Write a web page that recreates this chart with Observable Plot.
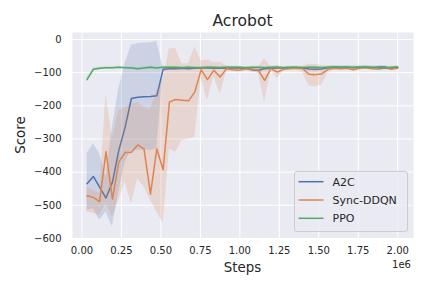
<!DOCTYPE html>
<html>
<head>
<meta charset="utf-8">
<script src="https://cdn.jsdelivr.net/npm/d3@7"></script>
<script src="https://cdn.jsdelivr.net/npm/@observablehq/plot@0.6"></script>
<style>
  html, body { margin: 0; padding: 0; background: white; }
</style>
</head>
<body>
<script>
// ---- data ----
const steps = [32000, 72000, 112000, 152000, 193000, 233000, 273000, 313000, 353000, 393000,
  434000, 474000, 514000, 554000, 594000, 634000, 675000, 715000, 755000, 795000,
  835000, 875000, 916000, 956000, 996000, 1036000, 1076000, 1116000, 1157000, 1197000,
  1237000, 1277000, 1317000, 1357000, 1398000, 1438000, 1478000, 1518000, 1558000, 1598000,
  1639000, 1679000, 1719000, 1759000, 1799000, 1839000, 1880000, 1920000, 1960000, 2000000];

const seriesNames = ["A2C", "Sync-DDQN", "PPO"];
const seriesColors = ["#4c72b0", "#dd8452", "#55a868"];

const a2c = [-435, -413, -445, -478, -430, -335, -265, -178, -174, -173,
  -172, -170, -90, -88, -88, -87, -88, -87, -86, -86,
  -87, -86, -87, -86, -86, -87, -91, -93, -88, -87,
  -86, -86, -86, -85, -86, -89, -90, -89, -85, -84,
  -84, -84, -85, -84, -84, -85, -83, -83, -88, -84];
const a2cLo = [-515, -510, -545, -520, -565, -460, -370, -334, -334, -334,
  -334, -330, -97, -93, -92, -91, -92, -91, -90, -90,
  -91, -90, -91, -90, -90, -92, -98, -102, -93, -91,
  -90, -90, -90, -89, -90, -94, -96, -94, -89, -88,
  -88, -88, -89, -88, -88, -89, -87, -88, -92, -88];
const a2cHi = [-344, -314, -344, -415, -264, -150, -72, -18, -13, -11,
  -10, -6, -84, -84, -84, -83, -84, -83, -82, -82,
  -83, -82, -83, -82, -82, -83, -85, -86, -84, -83,
  -82, -82, -82, -81, -82, -84, -85, -84, -81, -80,
  -80, -80, -81, -80, -80, -81, -79, -79, -84, -80];

const ddqn = [-471, -476, -489, -338, -481, -370, -341, -340, -318, -330,
  -466, -330, -393, -188, -181, -183, -185, -158, -91, -121,
  -93, -113, -88, -91, -93, -89, -89, -92, -123, -88,
  -98, -90, -88, -87, -88, -105, -106, -104, -90, -87,
  -88, -87, -91, -87, -85, -88, -89, -86, -89, -87];
const ddqnLo = [-520, -525, -530, -495, -535, -485, -430, -495, -420, -445,
  -485, -520, -555, -330, -340, -305, -300, -295, -115, -185,
  -112, -165, -97, -97, -98, -95, -95, -98, -189, -93,
  -118, -95, -93, -92, -100, -140, -143, -137, -100, -92,
  -93, -92, -96, -92, -90, -93, -94, -91, -94, -92];
const ddqnHi = [-445, -455, -465, -165, -300, -215, -205, -195, -190, -205,
  -210, -155, -120, -28, -28, -73, -73, -23, -65, -62,
  -70, -68, -80, -82, -83, -84, -84, -86, -58, -83,
  -78, -84, -83, -82, -80, -75, -75, -78, -82, -82,
  -83, -82, -86, -82, -80, -83, -84, -81, -84, -82];

const ppo = [-121, -90, -87, -85, -85, -84, -85, -86, -88, -86,
  -84, -86, -84, -84, -84, -85, -84, -85, -85, -84,
  -84, -85, -84, -84, -84, -85, -84, -84, -85, -84,
  -84, -85, -84, -84, -85, -84, -84, -85, -84, -83,
  -84, -84, -84, -84, -83, -84, -85, -87, -84, -83];
const ppoLo = [-128, -95, -91, -89, -89, -88, -89, -90, -92, -90,
  -88, -90, -88, -88, -88, -89, -88, -89, -89, -88,
  -88, -89, -88, -88, -88, -89, -88, -88, -89, -88,
  -88, -89, -88, -88, -89, -88, -88, -89, -88, -87,
  -88, -88, -88, -88, -87, -88, -89, -91, -88, -87];
const ppoHi = [-115, -86, -84, -82, -82, -81, -82, -83, -85, -83,
  -81, -83, -81, -81, -81, -82, -81, -82, -82, -81,
  -81, -82, -81, -81, -81, -82, -81, -81, -82, -81,
  -81, -82, -81, -81, -82, -81, -81, -82, -81, -80,
  -81, -81, -81, -81, -80, -81, -82, -84, -81, -80];

const xTicks = [0, 250000, 500000, 750000, 1000000, 1250000, 1500000, 1750000, 2000000];
const xTickLabels = ["0.00", "0.25", "0.50", "0.75", "1.00", "1.25", "1.50", "1.75", "2.00"];
const yTicks = [-600, -500, -400, -300, -200, -100, 0];
const yTickLabels = ["\u2212600", "\u2212500", "\u2212400", "\u2212300", "\u2212200", "\u2212100", "0"];

// ---- build tidy table ----
const allY = [a2c, ddqn, ppo];
const allLo = [a2cLo, ddqnLo, ppoLo];
const allHi = [a2cHi, ddqnHi, ppoHi];
const rows = [];
seriesNames.forEach((name, k) => {
  steps.forEach((s, i) => rows.push({step: s, algo: name, y: allY[k][i], lo: allLo[k][i], hi: allHi[k][i]}));
});

const marks = [
  Plot.frame({fill: "#eaeaf2", stroke: "none"}),
  Plot.gridX({ticks: xTicks, stroke: "white", strokeOpacity: 1, strokeWidth: 1}),
  Plot.gridY({ticks: yTicks, stroke: "white", strokeOpacity: 1, strokeWidth: 1}),
  Plot.axisX({ticks: xTicks, tickSize: 0, tickPadding: 8, fontSize: 10, label: null,
    tickFormat: d => xTickLabels[xTicks.indexOf(d)]}),
  Plot.axisY({ticks: yTicks, tickSize: 0, tickPadding: 11, fontSize: 10, label: null,
    tickFormat: d => yTickLabels[yTicks.indexOf(d)]})
];
seriesNames.forEach((name, k) => {
  const data = rows.filter(r => r.algo === name);
  marks.push(Plot.areaY(data, {x: "step", y1: "lo", y2: "hi", fill: seriesColors[k], fillOpacity: 0.2}));
  marks.push(Plot.line(data, {x: "step", y: "y", stroke: seriesColors[k], strokeWidth: 1.5}));
});

const chart = Plot.plot({
  width: 432,
  height: 288,
  marginLeft: 72,
  marginRight: 19,
  marginTop: 32,
  marginBottom: 50,
  style: {fontFamily: "DejaVu Sans", fontSize: "10px", color: "#262626", background: "white"},
  x: {domain: [-60000, 2100000]},
  y: {domain: [-600, 21]},
  marks
});

const svg = d3.select(chart);
const W = 432, H = 288, mL = 72, mR = 19, mT = 32, mB = 50;
const cx = (mL + (W - mR)) / 2;

svg.append("text").attr("x", cx).attr("y", 25.5).attr("text-anchor", "middle")
  .attr("font-size", 15.6).attr("fill", "#262626").text("Acrobot");
svg.append("text").attr("x", cx).attr("y", 271.5).attr("text-anchor", "middle")
  .attr("font-size", 13.4).attr("fill", "#262626").text("Steps");
svg.append("text").attr("transform", `translate(24.5,${(mT + H - mB) / 2}) rotate(-90)`)
  .attr("text-anchor", "middle").attr("font-size", 13.4).attr("fill", "#262626").text("Score");
svg.append("text").attr("x", W - mR - 2).attr("y", 267.5).attr("text-anchor", "end")
  .attr("font-size", 10).attr("fill", "#262626").text("1e6");

// legend
const lg = svg.append("g");
lg.append("rect").attr("x", 294.5).attr("y", 171.5).attr("width", 113).attr("height", 60)
  .attr("rx", 2.5).attr("fill", "#eaeaf2").attr("fill-opacity", 0.8)
  .attr("stroke", "#cccccc").attr("stroke-width", 1);
seriesNames.forEach((name, k) => {
  const yy = 181.7 + k * 18.3;
  lg.append("line").attr("x1", 298.5).attr("x2", 323.5).attr("y1", yy).attr("y2", yy)
    .attr("stroke", seriesColors[k]).attr("stroke-width", 1.5);
  lg.append("text").attr("x", 332.5).attr("y", yy + 4).attr("text-anchor", "start")
    .attr("font-size", 11).attr("fill", "#262626").text(name);
});

document.body.appendChild(chart);
</script>
</body>
</html>
